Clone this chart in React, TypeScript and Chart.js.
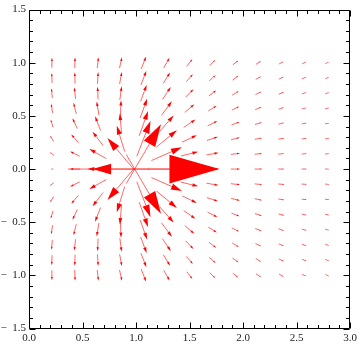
import React, { useEffect, useRef } from 'react';
import { Chart, registerables } from 'chart.js';

Chart.register(...registerables);

// Grid sample positions
const xs = [0.214, 0.429, 0.643, 0.857, 1.071, 1.286, 1.5, 1.714, 1.929, 2.143, 2.357, 2.571, 2.786];
const ys = [1, 0.857, 0.714, 0.571, 0.429, 0.286, 0.143, 0, -0.143, -0.286, -0.429, -0.571, -0.714, -0.857, -1];

// Vector x-components, one row per y (top to bottom)
const U = [
  [0.01, 0.04, 0.13, 0.28, 0.55, 0.66, 0.63, 0.62, 0.60, 0.55, 0.50, 0.45, 0.40],
  [-0.03, -0.03, 0.07, 0.25, 0.60, 0.77, 0.74, 0.71, 0.66, 0.60, 0.54, 0.48, 0.42],
  [-0.09, -0.14, -0.05, 0.20, 0.67, 0.93, 0.87, 0.81, 0.74, 0.65, 0.58, 0.50, 0.44],
  [-0.17, -0.30, -0.26, 0.08, 0.78, 1.17, 1.06, 0.94, 0.82, 0.71, 0.61, 0.53, 0.46],
  [-0.27, -0.54, -0.61, -0.19, 0.99, 1.57, 1.31, 1.08, 0.90, 0.76, 0.65, 0.55, 0.47],
  [-0.38, -0.81, -1.17, -0.88, 1.53, 2.29, 1.62, 1.23, 0.98, 0.80, 0.67, 0.56, 0.49],
  [-0.46, -1.07, -1.90, -2.97, 3.87, 3.40, 1.91, 1.34, 1.03, 0.83, 0.69, 0.57, 0.49],
  [-0.30, -1.18, -2.30, -6.30, 16.9, 4.13, 2.04, 1.38, 1.05, 0.84, 0.69, 0.58, 0.49],
  [-0.46, -1.07, -1.90, -2.97, 3.87, 3.40, 1.91, 1.34, 1.03, 0.83, 0.69, 0.57, 0.49],
  [-0.38, -0.81, -1.17, -0.88, 1.53, 2.29, 1.62, 1.23, 0.98, 0.80, 0.67, 0.56, 0.49],
  [-0.27, -0.54, -0.61, -0.19, 0.99, 1.57, 1.31, 1.08, 0.90, 0.76, 0.65, 0.55, 0.47],
  [-0.17, -0.30, -0.26, 0.08, 0.78, 1.17, 1.06, 0.94, 0.82, 0.71, 0.61, 0.53, 0.46],
  [-0.09, -0.14, -0.05, 0.20, 0.67, 0.93, 0.87, 0.81, 0.74, 0.65, 0.58, 0.50, 0.44],
  [-0.03, -0.03, 0.07, 0.25, 0.60, 0.77, 0.74, 0.71, 0.66, 0.60, 0.54, 0.48, 0.42],
  [0.01, 0.04, 0.13, 0.28, 0.55, 0.66, 0.63, 0.62, 0.60, 0.55, 0.50, 0.45, 0.40],
];

// Vector y-components, one row per y (top to bottom)
const V = [
  [1.12, 1.21, 1.21, 1.21, 1.40, 1.14, 0.80, 0.61, 0.47, 0.37, 0.29, 0.23, 0.18],
  [1.12, 1.25, 1.31, 1.34, 1.57, 1.25, 0.84, 0.62, 0.47, 0.35, 0.27, 0.21, 0.17],
  [1.09, 1.27, 1.41, 1.53, 1.81, 1.40, 0.89, 0.62, 0.44, 0.32, 0.24, 0.18, 0.14],
  [1.02, 1.25, 1.52, 1.80, 2.18, 1.58, 0.92, 0.59, 0.40, 0.28, 0.21, 0.16, 0.12],
  [0.87, 1.16, 1.60, 2.22, 2.79, 1.78, 0.90, 0.53, 0.34, 0.23, 0.17, 0.12, 0.09],
  [0.65, 0.94, 1.54, 2.88, 3.97, 1.90, 0.77, 0.41, 0.25, 0.16, 0.12, 0.08, 0.06],
  [0.35, 0.54, 1.07, 3.54, 6.65, 1.50, 0.47, 0.23, 0.13, 0.09, 0.06, 0.04, 0.03],
  [0, 0, 0, 0, 0, 0, 0, 0, 0, 0, 0, 0, 0],
  [-0.35, -0.54, -1.07, -3.54, -6.65, -1.50, -0.47, -0.23, -0.13, -0.09, -0.06, -0.04, -0.03],
  [-0.65, -0.94, -1.54, -2.88, -3.97, -1.90, -0.77, -0.41, -0.25, -0.16, -0.12, -0.08, -0.06],
  [-0.87, -1.16, -1.60, -2.22, -2.79, -1.78, -0.90, -0.53, -0.34, -0.23, -0.17, -0.12, -0.09],
  [-1.02, -1.25, -1.52, -1.80, -2.18, -1.58, -0.92, -0.59, -0.40, -0.28, -0.21, -0.16, -0.12],
  [-1.09, -1.27, -1.41, -1.53, -1.81, -1.40, -0.89, -0.62, -0.44, -0.32, -0.24, -0.18, -0.14],
  [-1.12, -1.25, -1.31, -1.34, -1.57, -1.25, -0.84, -0.62, -0.47, -0.35, -0.27, -0.21, -0.17],
  [-1.12, -1.21, -1.21, -1.21, -1.40, -1.14, -0.80, -0.61, -0.47, -0.37, -0.29, -0.23, -0.18],
];

const ARROW_SCALE = 0.0838; // data units per vector unit
const SHAFT_COLOR = 'rgba(255,0,0,0.8)';
const HEAD_COLOR = '#ff0000';
const FONT = { family: "'Liberation Serif', 'Times New Roman', serif", size: 11 };

const fmt = (v: number) => {
  const s = Math.abs(v).toFixed(1);
  return v < -1e-9 ? '\u2212\u2002' + s : s;
};

const arrowPlugin = {
  id: 'vectorArrows',
  afterDatasetsDraw(chart: any) {
    const { ctx, chartArea } = chart;
    const sx = chart.scales.x;
    const sy = chart.scales.y;
    ctx.save();
    ctx.beginPath();
    ctx.rect(chartArea.left, chartArea.top, chartArea.right - chartArea.left, chartArea.bottom - chartArea.top);
    ctx.clip();
    ys.forEach((yv, r) => {
      xs.forEach((xv, c) => {
        const u = U[r][c];
        const v = V[r][c];
        const x0 = sx.getPixelForValue(xv - (ARROW_SCALE * u) / 2);
        const y0 = sy.getPixelForValue(yv - (ARROW_SCALE * v) / 2);
        const x1 = sx.getPixelForValue(xv + (ARROW_SCALE * u) / 2);
        const y1 = sy.getPixelForValue(yv + (ARROW_SCALE * v) / 2);
        const dx = x1 - x0;
        const dy = y1 - y0;
        const L = Math.hypot(dx, dy);
        if (L < 0.3) return;
        const ux = dx / L;
        const uy = dy / L;
        const h = 0.33 * L;
        const w = 0.095 * L;
        const bx = x1 - ux * h;
        const by = y1 - uy * h;
        ctx.strokeStyle = SHAFT_COLOR;
        ctx.lineWidth = 0.75;
        ctx.beginPath();
        ctx.moveTo(x0, y0);
        ctx.lineTo(bx, by);
        ctx.stroke();
        ctx.fillStyle = HEAD_COLOR;
        ctx.beginPath();
        ctx.moveTo(x1, y1);
        ctx.lineTo(bx - uy * w, by + ux * w);
        ctx.lineTo(bx + uy * w, by - ux * w);
        ctx.closePath();
        ctx.fill();
      });
    });
    ctx.restore();
  },
};

const framePlugin = {
  id: 'frameTicks',
  afterDraw(chart: any) {
    const { ctx, chartArea } = chart;
    const sx = chart.scales.x;
    const sy = chart.scales.y;
    const l = Math.round(chartArea.left) + 0.5;
    const r = Math.round(chartArea.right) - 0.5;
    const t = Math.round(chartArea.top) + 0.5;
    const b = Math.round(chartArea.bottom) - 0.5;
    ctx.save();
    ctx.strokeStyle = '#000';
    ctx.lineWidth = 1;
    ctx.beginPath();
    ctx.rect(l, t, r - l, b - t);
    ctx.stroke();
    ctx.beginPath();
    for (let i = 0; i <= 30; i++) {
      const major = i % 5 === 0;
      const len = major ? 6 : 3.5;
      const px = Math.round(sx.getPixelForValue(i / 10)) + 0.5;
      ctx.moveTo(px, b);
      ctx.lineTo(px, b - len);
      ctx.moveTo(px, t);
      ctx.lineTo(px, t + len);
      const py = Math.round(sy.getPixelForValue(-1.5 + i / 10)) + 0.5;
      ctx.moveTo(l, py);
      ctx.lineTo(l + len, py);
      ctx.moveTo(r, py);
      ctx.lineTo(r - len, py);
    }
    ctx.stroke();
    ctx.restore();
  },
};

export default function App() {
  const canvasRef = useRef<HTMLCanvasElement | null>(null);

  useEffect(() => {
    if (!canvasRef.current) return;
    const points: { x: number; y: number }[] = [];
    ys.forEach((yv) => xs.forEach((xv) => points.push({ x: xv, y: yv })));
    const chart = new Chart(canvasRef.current, {
      type: 'scatter',
      data: {
        datasets: [
          {
            data: points,
            pointRadius: 0,
            pointHoverRadius: 0,
            showLine: false,
          },
        ],
      },
      options: {
        animation: false,
        responsive: true,
        maintainAspectRatio: false,
        events: [],
        layout: { padding: { top: 6.5, right: 8.5, left: 0, bottom: 0 } },
        plugins: { legend: { display: false }, tooltip: { enabled: false } },
        scales: {
          x: {
            type: 'linear',
            min: 0,
            max: 3,
            grid: { display: false, drawTicks: false },
            border: { display: false },
            ticks: {
              stepSize: 0.5,
              autoSkip: false,
              maxRotation: 0,
              padding: 3,
              color: '#222',
              font: FONT,
              callback: (v: any) => fmt(Number(v)),
            },
            afterFit: (s: any) => {
              s.height = 18.5;
            },
          },
          y: {
            type: 'linear',
            min: -1.5,
            max: 1.5,
            grid: { display: false, drawTicks: false },
            border: { display: false },
            ticks: {
              stepSize: 0.5,
              autoSkip: false,
              padding: 3,
              color: '#222',
              font: FONT,
              callback: (v: any) => fmt(Number(v)),
            },
            afterFit: (s: any) => {
              s.width = 29;
            },
          },
        },
      } as any,
      plugins: [arrowPlugin, framePlugin],
    });
    return () => chart.destroy();
  }, []);

  return (
    <div style={{ position: 'fixed', left: 0, top: 0, width: 360, height: 347, background: '#fff' }}>
      <canvas ref={canvasRef} />
    </div>
  );
}
